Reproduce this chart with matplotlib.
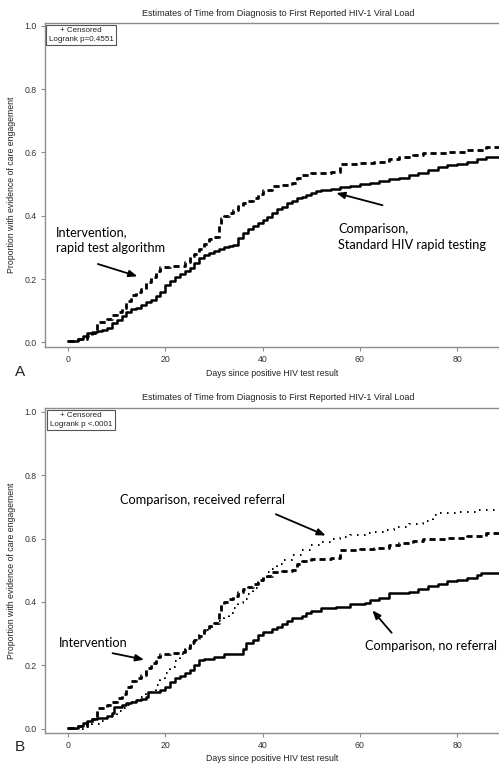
import matplotlib
matplotlib.use("Agg")
import matplotlib.pyplot as plt

# ---------------- data ----------------
title = "Estimates of Time from Diagnosis to First Reported HIV-1 Viral Load"
xlabel = "Days since positive HIV test result"
ylabel = "Proportion with evidence of care engagement"
xticks = [0, 20, 40, 60, 80]
yticks = [0.0, 0.2, 0.4, 0.6, 0.8, 1.0]

# Intervention (dashed) - same in both panels
interv_days = [0, 2, 4, 5, 6, 7, 8, 9, 10, 11, 12, 13, 14, 15, 16, 17, 18, 19, 21, 23,
               24, 25, 26, 27, 28, 29, 30, 31, 31.5, 32, 33, 34, 35, 36, 37, 38, 39, 40,
               42, 44, 46, 47, 48, 50, 54, 56, 60, 63, 66, 68, 71, 73, 78, 82, 86, 88.6]
interv_vals = [0.003, 0.01, 0.02, 0.03, 0.065, 0.065, 0.075, 0.085, 0.097, 0.11, 0.13, 0.15,
               0.16, 0.168, 0.19, 0.207, 0.225, 0.237, 0.24, 0.242, 0.255, 0.272, 0.28, 0.294,
               0.31, 0.325, 0.334, 0.37, 0.393, 0.4, 0.41, 0.418, 0.43, 0.44, 0.447, 0.455,
               0.47, 0.481, 0.495, 0.497, 0.502, 0.52, 0.529, 0.535, 0.539, 0.563, 0.567,
               0.571, 0.578, 0.586, 0.592, 0.597, 0.602, 0.608, 0.616, 0.616]

# Panel A comparison (solid)
compA_days = [0, 1, 2, 3, 4, 5, 6, 7, 8, 9, 10, 11, 12, 13, 14, 15, 16, 17, 18, 19, 20, 21,
              22, 23, 24, 25, 26, 27, 28, 29, 30, 31, 32, 33, 34, 35, 36, 37, 38, 39, 40, 41,
              42, 43, 44, 45, 46, 47, 48, 49, 50, 51, 52, 54, 56, 58, 60, 62, 64, 66, 68, 70,
              72, 74, 76, 78, 80, 82, 84, 86, 88.6]
compA_vals = [0.003, 0.003, 0.012, 0.02, 0.028, 0.033, 0.036, 0.04, 0.045, 0.06, 0.07, 0.083,
              0.095, 0.105, 0.11, 0.118, 0.128, 0.135, 0.145, 0.16, 0.18, 0.195, 0.205, 0.215,
              0.225, 0.235, 0.25, 0.265, 0.275, 0.283, 0.29, 0.295, 0.3, 0.305, 0.307, 0.33,
              0.345, 0.358, 0.368, 0.378, 0.386, 0.395, 0.41, 0.42, 0.428, 0.44, 0.447, 0.455,
              0.46, 0.466, 0.472, 0.479, 0.482, 0.486, 0.49, 0.495, 0.5, 0.504, 0.51, 0.515,
              0.52, 0.528, 0.535, 0.545, 0.555, 0.56, 0.565, 0.57, 0.58, 0.584, 0.584]

# Panel B comparison, no referral (solid)
noref_days = [0, 2, 3, 4, 5, 6, 8, 9, 9.5, 11, 12, 13, 14, 15, 16, 16.5, 19, 20, 21, 22, 23,
              24, 25, 26, 27, 28, 30, 32, 36, 36.5, 38, 39, 40, 42, 43, 44, 45, 46, 48, 49, 50,
              52, 55, 58, 61, 62, 64, 66, 70, 72, 74, 76, 78, 80, 82, 84, 85, 88.6]
noref_vals = [0.003, 0.01, 0.018, 0.025, 0.03, 0.035, 0.04, 0.05, 0.069, 0.075, 0.08, 0.085,
              0.09, 0.095, 0.1, 0.117, 0.122, 0.13, 0.148, 0.16, 0.165, 0.175, 0.185, 0.2,
              0.217, 0.22, 0.227, 0.236, 0.25, 0.27, 0.28, 0.295, 0.306, 0.315, 0.32, 0.33,
              0.34, 0.348, 0.355, 0.364, 0.37, 0.38, 0.385, 0.393, 0.398, 0.406, 0.413, 0.427,
              0.432, 0.44, 0.45, 0.456, 0.465, 0.469, 0.475, 0.485, 0.49, 0.492]

# Panel B comparison, received referral (dotted)
ref_days = [0, 3, 5, 7, 8, 10, 11, 12, 13, 14, 15, 16, 17, 18, 19, 20, 21, 22, 23, 24, 25, 26,
            27, 28, 29, 30, 31, 32, 33, 34, 35, 36, 37, 38, 39, 40, 41, 42, 43, 44, 46, 48, 50,
            52, 54, 56, 58, 61, 63, 65, 67, 70, 73, 75, 76, 80, 84, 88.6]
ref_vals = [0.0, 0.005, 0.015, 0.025, 0.04, 0.055, 0.065, 0.075, 0.083, 0.09, 0.1, 0.108, 0.12,
            0.138, 0.155, 0.175, 0.196, 0.215, 0.235, 0.255, 0.268, 0.28, 0.3, 0.31, 0.322,
            0.332, 0.34, 0.35, 0.364, 0.38, 0.395, 0.41, 0.425, 0.445, 0.465, 0.48, 0.495,
            0.505, 0.52, 0.532, 0.548, 0.564, 0.578, 0.59, 0.597, 0.605, 0.611, 0.616, 0.621,
            0.627, 0.637, 0.645, 0.655, 0.675, 0.68, 0.684, 0.69, 0.69]

# ---------------- figure ----------------
W, H = 499, 764
fig = plt.figure(figsize=(W / 100, H / 100), dpi=100)
plt.rcParams['font.family'] = ['Liberation Sans', 'DejaVu Sans']
annot_font = ['Lato', 'DejaVu Sans']
ANN_FS = 9.2
GREY = '#8c8c8c'


def px_axes(left, top, right, bottom):
    return fig.add_axes([left / W, 1 - bottom / H, (right - left) / W, (bottom - top) / H])


def style_axes(ax, ylo, yhi):
    ax.set_xlim(-4.73, 88.6)
    ax.set_ylim(ylo, yhi)
    ax.set_xticks(xticks)
    ax.set_yticks(yticks)
    ax.set_yticklabels([f"{v:.1f}" for v in yticks])
    for s in ['left', 'bottom', 'top']:
        ax.spines[s].set_color(GREY)
        ax.spines[s].set_linewidth(1.0)
    ax.spines['right'].set_visible(False)
    ax.tick_params(direction='out', length=3, width=0.8, color=GREY,
                   labelsize=6.3, labelcolor='#333333', pad=3)
    ax.set_xlabel(xlabel, fontsize=6.3, color='#222222', labelpad=3)
    ax.set_ylabel(ylabel, fontsize=6.3, color='#222222', labelpad=6)


def legend_box(ax, text):
    ax.text(0.0795, 0.9865, text, transform=ax.transAxes,
            fontsize=5.8, ha='center', va='top', multialignment='center',
            color='#222222', linespacing=1.25,
            bbox=dict(boxstyle='square,pad=0.3', fc='white', ec='#555555', lw=0.8))


dash_style = dict(color='black', lw=2.0, linestyle=(0, (2.2, 1.4)), where='post')
solid_style = dict(color='black', lw=1.8, linestyle='-', where='post')
dot_style = dict(color='black', lw=1.4, linestyle=(0, (0.8, 2.8)), where='post')
arrow_props = dict(arrowstyle='-|>,head_length=0.5,head_width=0.2', color='black', lw=1.3)

# ---- Panel A ----
axA = px_axes(45, 23, 499, 347)
style_axes(axA, -0.0148, 1.009)
axA.step(interv_days, interv_vals, **dash_style)
axA.step(compA_days, compA_vals, **solid_style)
fig.text(278 / W, 1 - 13 / H, title, fontsize=6.5, color='#222222', ha='center', va='center')
legend_box(axA, "+ Censored\nLogrank p=0.4551")
axA.text(-2.4, 0.322, "Intervention,\nrapid test algorithm", fontsize=ANN_FS,
         family=annot_font, ha='left', va='center', linespacing=1.4)
axA.annotate("", xy=(14.8, 0.206), xytext=(5.6, 0.25), arrowprops=arrow_props)
axA.text(55.5, 0.333, "Comparison,\nStandard HIV rapid testing", fontsize=ANN_FS,
         family=annot_font, ha='left', va='center', linespacing=1.4)
axA.annotate("", xy=(54.6, 0.474), xytext=(65.2, 0.431), arrowprops=arrow_props)
fig.text(15 / W, 1 - 372 / H, "A", fontsize=11, ha='left', va='center', color='#222222')

# ---- Panel B ----
axB = px_axes(45, 408, 499, 732.7)
style_axes(axB, -0.0126, 1.0117)
axB.step(ref_days, ref_vals, **dot_style)
axB.step(interv_days, interv_vals, **dash_style)
axB.step(noref_days, noref_vals, **solid_style)
fig.text(278 / W, 1 - 397 / H, title, fontsize=6.5, color='#222222', ha='center', va='center')
legend_box(axB, "+ Censored\nLogrank p <.0001")
axB.text(10.7, 0.723, "Comparison, received referral", fontsize=ANN_FS,
         family=annot_font, ha='left', va='center')
axB.annotate("", xy=(53.5, 0.606), xytext=(42.2, 0.68), arrowprops=arrow_props)
axB.text(-1.9, 0.27, "Intervention", fontsize=ANN_FS,
         family=annot_font, ha='left', va='center')
axB.annotate("", xy=(16.2, 0.216), xytext=(8.6, 0.24), arrowprops=arrow_props)
axB.text(61.1, 0.26, "Comparison, no referral", fontsize=ANN_FS,
         family=annot_font, ha='left', va='center')
axB.annotate("", xy=(62.2, 0.38), xytext=(66.9, 0.296), arrowprops=arrow_props)
fig.text(15 / W, 1 - 747 / H, "B", fontsize=11, ha='left', va='center', color='#222222')

fig.savefig("out.png", dpi=100, facecolor='white')
